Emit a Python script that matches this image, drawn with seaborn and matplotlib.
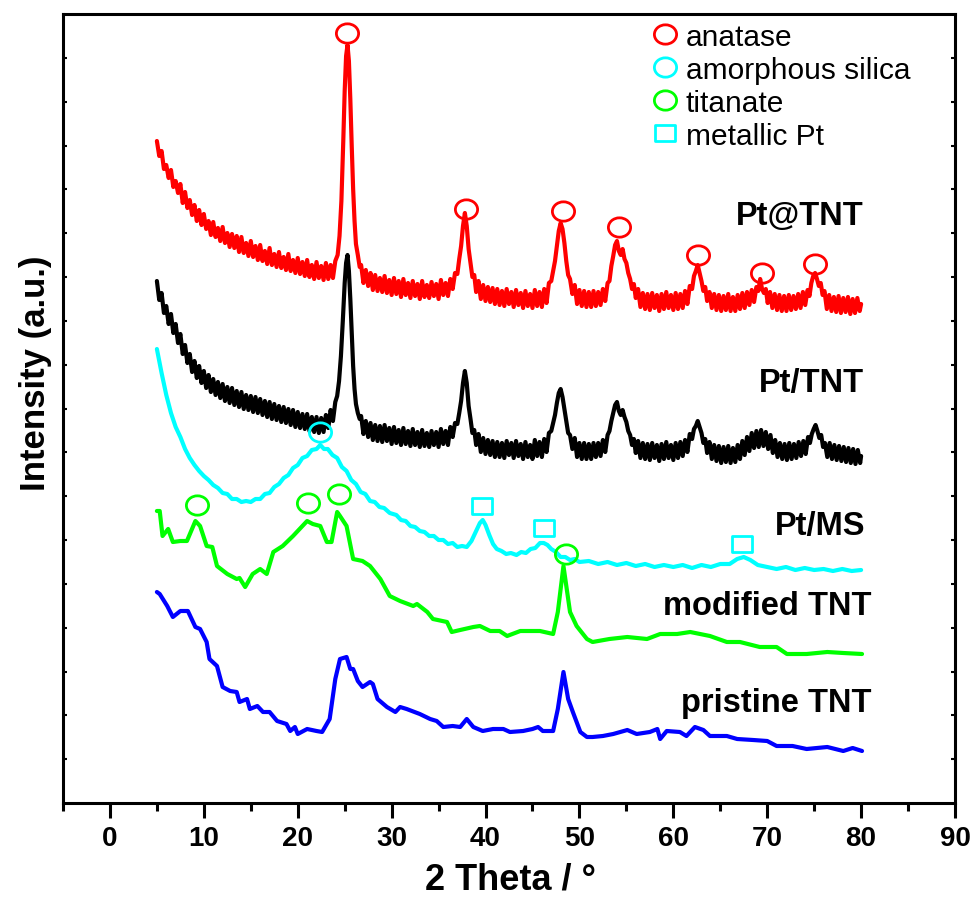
import numpy as np
import pandas as pd
import matplotlib
matplotlib.use("Agg")
import matplotlib.pyplot as plt
import seaborn as sns
from matplotlib.path import Path
from matplotlib.transforms import Affine2D
from matplotlib.lines import Line2D
from matplotlib import font_manager as fm

# ---------------- data (2 Theta in degrees, intensity in a.u. incl. vertical offset) ----------------
# noisy scans as (2 Theta, intensity) pairs
pt_at_tnt = [
    (5.00, 670), (5.25, 655), (5.50, 660), (5.75, 642), (6.00, 646), (6.25, 633), (6.50, 641), (6.75, 624), (7.00, 630), (7.25, 618),
    (7.50, 627), (7.75, 608), (8.00, 619), (8.25, 603), (8.50, 611), (8.75, 596), (9.00, 606), (9.25, 590), (9.50, 601), (9.75, 586),
    (10.00, 597), (10.25, 582), (10.50, 590), (10.75, 576), (11.00, 589), (11.25, 574), (11.50, 583), (11.75, 570), (12.00, 584), (12.25, 568),
    (12.50, 578), (12.75, 564), (13.00, 577), (13.25, 563), (13.50, 575), (13.75, 559), (14.00, 574), (14.25, 558), (14.50, 568), (14.75, 555),
    (15.00, 570), (15.25, 554), (15.50, 565), (15.75, 551), (16.00, 566), (16.25, 550), (16.50, 560), (16.75, 547), (17.00, 563), (17.25, 546),
    (17.50, 557), (17.75, 544), (18.00, 559), (18.25, 543), (18.50, 554), (18.75, 541), (19.00, 557), (19.25, 540), (19.50, 551), (19.75, 538),
    (20.00, 553), (20.25, 537), (20.50, 549), (20.75, 535), (21.00, 551), (21.25, 534), (21.50, 546), (21.75, 532), (22.00, 549), (22.25, 533),
    (22.50, 545), (22.75, 531), (23.00, 548), (23.25, 532), (23.50, 546), (23.75, 533), (24.00, 550), (24.25, 556),
    (24.45, 575), (24.65, 610), (24.85, 670), (25.00, 720), (25.15, 755), (25.30, 766), (25.45, 750), (25.60, 712), (25.75, 665),
    (25.90, 622), (26.05, 590), (26.20, 567), (26.40, 556), (26.60, 544),
    (26.75, 546), (27.00, 528), (27.25, 541), (27.50, 525), (27.75, 538), (28.00, 521), (28.25, 536), (28.50, 520), (28.75, 533), (29.00, 519),
    (29.25, 535), (29.50, 518), (29.75, 531), (30.00, 516), (30.25, 533), (30.50, 517), (30.75, 530), (31.00, 514), (31.25, 532), (31.50, 516),
    (31.75, 528), (32.00, 513), (32.25, 530), (32.50, 515), (32.75, 527), (33.00, 512), (33.25, 530), (33.50, 514), (33.75, 526), (34.00, 513),
    (34.25, 529), (34.50, 515), (34.75, 527), (35.00, 512), (35.25, 531), (35.50, 516), (35.75, 528), (36.00, 515), (36.25, 532), (36.50, 522),
    (36.75, 538), (37.00, 537), (37.20, 552), (37.40, 565), (37.60, 585), (37.80, 598), (38.00, 585), (38.20, 562), (38.40, 548),
    (38.60, 534), (38.80, 536),
    (39.00, 519), (39.25, 530), (39.50, 512), (39.75, 526), (40.00, 510), (40.25, 524), (40.50, 509), (40.75, 523), (41.00, 507), (41.25, 522),
    (41.50, 506), (41.75, 520), (42.00, 505), (42.25, 522), (42.50, 507), (42.75, 519), (43.00, 504), (43.25, 521), (43.50, 506), (43.75, 518),
    (44.00, 503), (44.25, 520), (44.50, 505), (44.75, 517), (45.00, 503), (45.25, 521), (45.50, 505), (45.75, 519), (46.00, 504), (46.25, 522),
    (46.50, 508), (46.75, 528),
    (47.00, 530), (47.20, 540), (47.40, 550), (47.60, 565), (47.80, 580), (48.00, 588), (48.20, 582), (48.40, 568), (48.60, 550),
    (48.80, 536), (49.00, 532),
    (49.25, 517), (49.50, 526), (49.75, 507), (50.00, 521), (50.25, 505), (50.50, 520), (50.75, 504), (51.00, 519), (51.25, 504), (51.50, 520),
    (51.75, 505), (52.00, 519), (52.25, 506), (52.50, 522), (52.75, 510), (53.00, 528),
    (53.20, 530), (53.40, 545), (53.60, 555), (53.80, 566), (54.00, 570), (54.20, 560), (54.40, 556), (54.60, 562), (54.80, 552),
    (55.00, 548), (55.20, 538), (55.40, 532), (55.60, 522), (55.80, 527), (56.00, 513),
    (56.25, 522), (56.50, 504), (56.75, 518), (57.00, 502), (57.25, 517), (57.50, 501), (57.75, 518), (58.00, 503), (58.25, 516), (58.50, 500),
    (58.75, 517), (59.00, 502), (59.25, 519), (59.50, 503), (59.75, 516), (60.00, 501), (60.25, 518), (60.50, 502), (60.75, 517), (61.00, 503),
    (61.25, 520), (61.50, 507), (61.75, 525),
    (62.00, 522), (62.20, 535), (62.40, 540), (62.60, 546), (62.80, 538), (63.00, 530), (63.20, 520), (63.40, 524), (63.60, 510),
    (63.85, 519), (64.10, 503), (64.35, 517), (64.60, 501), (64.85, 516), (65.10, 500), (65.35, 515), (65.60, 501), (65.85, 517), (66.10, 500),
    (66.35, 514), (66.60, 500), (66.85, 516), (67.10, 502), (67.35, 518), (67.60, 503), (67.85, 519), (68.10, 506), (68.35, 521), (68.60, 509),
    (68.85, 524), (69.05, 520), (69.25, 532), (69.45, 522), (69.65, 518), (69.85, 522), (70.05, 508),
    (70.30, 519), (70.55, 503), (70.80, 517), (71.05, 501), (71.30, 516), (71.55, 500), (71.80, 515), (72.05, 500), (72.30, 516), (72.55, 501),
    (72.80, 515), (73.05, 502), (73.30, 517), (73.55, 503), (73.80, 519), (74.05, 506), (74.30, 521),
    (74.50, 515), (74.70, 528), (74.90, 535), (75.10, 538), (75.30, 532), (75.50, 525), (75.70, 528), (75.90, 516), (76.10, 520),
    (76.35, 502), (76.60, 516), (76.85, 500), (77.10, 514), (77.35, 499), (77.60, 515), (77.85, 498), (78.10, 513), (78.35, 499), (78.60, 514),
    (78.85, 497), (79.10, 512), (79.35, 498), (79.60, 513), (79.85, 500), (80.00, 507),
]

pt_tnt = [
    (5.00, 530), (5.25, 511), (5.50, 518), (5.75, 498), (6.00, 505), (6.25, 487), (6.50, 497), (6.75, 478), (7.00, 487), (7.25, 468),
    (7.50, 477), (7.75, 457), (8.00, 466), (8.25, 448), (8.50, 457), (8.75, 439), (9.00, 450), (9.25, 433), (9.50, 445), (9.75, 428),
    (10.00, 440), (10.25, 423), (10.50, 436), (10.75, 419), (11.00, 432), (11.25, 416), (11.50, 429), (11.75, 413), (12.00, 427), (12.25, 410),
    (12.50, 424), (12.75, 408), (13.00, 423), (13.25, 406), (13.50, 420), (13.75, 404), (14.00, 419), (14.25, 402), (14.50, 416), (14.75, 401),
    (15.00, 415), (15.25, 399), (15.50, 414), (15.75, 398), (16.00, 412), (16.25, 396), (16.50, 410), (16.75, 394), (17.00, 409), (17.25, 392),
    (17.50, 407), (17.75, 391), (18.00, 405), (18.25, 389), (18.50, 404), (18.75, 388), (19.00, 402), (19.25, 386), (19.50, 401), (19.75, 384),
    (20.00, 399), (20.25, 383), (20.50, 397), (20.75, 382), (21.00, 397), (21.25, 380), (21.50, 394), (21.75, 379), (22.00, 394), (22.25, 378),
    (22.50, 393), (22.75, 379), (23.00, 396), (23.25, 383), (23.50, 401), (23.75, 390), (24.00, 409),
    (24.20, 415), (24.40, 430), (24.60, 455), (24.80, 490), (25.00, 528), (25.15, 548), (25.30, 556), (25.45, 540), (25.60, 512),
    (25.75, 478), (25.90, 445), (26.05, 422), (26.20, 407), (26.40, 398), (26.60, 392),
    (26.75, 395), (27.00, 377), (27.25, 390), (27.50, 374), (27.75, 388), (28.00, 371), (28.25, 386), (28.50, 370), (28.75, 385), (29.00, 369),
    (29.25, 386), (29.50, 370), (29.75, 383), (30.00, 367), (30.25, 384), (30.50, 368), (30.75, 381), (31.00, 366), (31.25, 383), (31.50, 367),
    (31.75, 380), (32.00, 365), (32.25, 382), (32.50, 366), (32.75, 379), (33.00, 364), (33.25, 381), (33.50, 365), (33.75, 378), (34.00, 364),
    (34.25, 380), (34.50, 366), (34.75, 379), (35.00, 364), (35.25, 382), (35.50, 367), (35.75, 380), (36.00, 366), (36.25, 384), (36.50, 374),
    (36.75, 388), (37.00, 387), (37.20, 398), (37.40, 410), (37.60, 428), (37.80, 440), (38.00, 428), (38.20, 405), (38.40, 392),
    (38.60, 378), (38.80, 381),
    (39.00, 366), (39.25, 377), (39.50, 359), (39.75, 373), (40.00, 357), (40.25, 371), (40.50, 356), (40.75, 370), (41.00, 354), (41.25, 369),
    (41.50, 354), (41.75, 368), (42.00, 353), (42.25, 370), (42.50, 356), (42.75, 368), (43.00, 353), (43.25, 370), (43.50, 355), (43.75, 367),
    (44.00, 352), (44.25, 369), (44.50, 354), (44.75, 366), (45.00, 352), (45.25, 371), (45.50, 355), (45.75, 369), (46.00, 354), (46.25, 372),
    (46.50, 359), (46.75, 378),
    (47.00, 380), (47.20, 388), (47.40, 396), (47.60, 408), (47.80, 418), (48.00, 422), (48.20, 414), (48.40, 402), (48.60, 390),
    (48.80, 378), (49.00, 376),
    (49.25, 362), (49.50, 373), (49.75, 354), (50.00, 368), (50.25, 352), (50.50, 368), (50.75, 352), (51.00, 367), (51.25, 352), (51.50, 368),
    (51.75, 354), (52.00, 368), (52.25, 355), (52.50, 371), (52.75, 359), (53.00, 376),
    (53.20, 380), (53.40, 390), (53.60, 398), (53.80, 406), (54.00, 409), (54.20, 400), (54.40, 396), (54.60, 401), (54.80, 394),
    (55.00, 389), (55.20, 380), (55.40, 376), (55.60, 366), (55.80, 372), (56.00, 358),
    (56.25, 370), (56.50, 353), (56.75, 368), (57.00, 352), (57.25, 367), (57.50, 351), (57.75, 368), (58.00, 353), (58.25, 366), (58.50, 350),
    (58.75, 367), (59.00, 352), (59.25, 369), (59.50, 353), (59.75, 366), (60.00, 351), (60.25, 368), (60.50, 353), (60.75, 369), (61.00, 355),
    (61.25, 371), (61.50, 359), (61.75, 377),
    (62.00, 372), (62.20, 382), (62.40, 385), (62.60, 390), (62.80, 384), (63.00, 378), (63.20, 368), (63.40, 372), (63.60, 358),
    (63.85, 369), (64.10, 352), (64.35, 366), (64.60, 350), (64.85, 365), (65.10, 348), (65.35, 364), (65.60, 349), (65.85, 365), (66.10, 348),
    (66.35, 363), (66.60, 349), (66.85, 366), (67.10, 352), (67.35, 370), (67.60, 356), (67.85, 374), (68.10, 360), (68.35, 378), (68.60, 363),
    (68.85, 380), (69.10, 364), (69.35, 381), (69.60, 365), (69.85, 379), (70.10, 362), (70.35, 376), (70.60, 358),
    (70.85, 371), (71.10, 354), (71.35, 368), (71.60, 352), (71.85, 367), (72.10, 351), (72.35, 368), (72.60, 352), (72.85, 367), (73.10, 353),
    (73.35, 369), (73.60, 355), (73.85, 370), (74.10, 357), (74.35, 374),
    (74.55, 368), (74.75, 377), (74.95, 382), (75.15, 386), (75.35, 380), (75.55, 373), (75.75, 376), (75.95, 364), (76.15, 368),
    (76.40, 354), (76.65, 368), (76.90, 352), (77.15, 366), (77.40, 351), (77.65, 365), (77.90, 350), (78.15, 364), (78.40, 349), (78.65, 363),
    (78.90, 348), (79.15, 362), (79.40, 347), (79.65, 361), (79.90, 348), (80.00, 355),
]

pt_ms_tt = [5.0, 5.5, 6.0, 6.5, 7.0, 7.5, 8.0, 8.5, 9.0, 9.5, 10.0, 10.5, 11.0, 11.5, 12.0, 12.5, 13.0, 13.5,
            14.0, 14.5, 15.0, 15.5, 16.0, 16.5, 17.0, 17.5, 18.0, 18.5, 19.0, 19.5, 20.0, 20.5, 21.0, 21.5,
            22.0, 22.4, 22.8, 23.2, 23.7, 24.2, 24.7, 25.2, 25.7, 26.2, 26.7, 27.2, 27.7, 28.2, 28.7, 29.2,
            29.8, 30.5, 31.0, 31.5, 32.0, 32.5, 33.0, 33.5, 34.0, 34.5, 35.0, 35.5, 36.0, 36.5, 37.0, 37.5,
            38.0, 38.5, 39.0, 39.4, 39.7, 40.0, 40.4, 40.8, 41.2, 41.7, 42.2, 42.7, 43.3, 43.8, 44.3, 44.8,
            45.3, 45.8, 46.2, 46.6, 47.0, 47.5, 48.0, 48.5, 49.0, 49.5, 50.0, 51.0, 52.0, 53.0, 54.0, 55.0,
            56.0, 57.0, 58.0, 59.0, 60.0, 61.0, 62.0, 63.0, 64.0, 65.0, 66.0, 66.8, 67.5, 68.2, 69.0, 70.0,
            71.0, 72.0, 73.0, 74.0, 75.0, 76.0, 77.0, 78.0, 79.0, 80.0]
pt_ms_int = [462, 438, 416, 398, 384, 374, 362, 353, 346, 340, 335, 331, 326, 323, 318, 317, 312, 312,
             309, 310, 309, 312, 312, 317, 318, 324, 327, 333, 336, 343, 346, 353, 355, 361,
             362, 366, 362, 362, 356, 353, 344, 340, 331, 327, 319, 317, 310, 309, 304, 303,
             298, 296, 291, 290, 285, 284, 280, 279, 275, 275, 271, 271, 267, 268, 264, 265,
             264, 270, 280, 288, 291, 286, 276, 267, 262, 260, 257, 258, 256, 259, 258, 262,
             263, 268, 268, 266, 262, 259, 254, 254, 251, 252, 249, 250, 247, 249, 246, 248,
             245, 247, 244, 246, 244, 246, 243, 246, 244, 247, 247, 252, 254, 251, 246, 244,
             242, 244, 241, 243, 241, 242, 240, 242, 240, 241]

modified_tnt_tt = [5.0, 5.3, 5.6, 6.2, 6.7, 7.5, 8.2, 9.1, 9.6, 10.3, 10.9, 11.4, 12.5, 13.5, 13.8, 14.4,
                   15.2, 16.0, 16.7, 17.4, 18.4, 19.5, 20.2, 21.0, 21.6, 22.4, 23.1, 23.6, 24.2, 24.5, 25.2,
                   25.9, 26.9, 27.7, 28.8, 29.8, 30.9, 32.3, 32.7, 33.8, 34.4, 35.9, 36.4, 37.3, 38.7, 39.4,
                   40.5, 41.5, 42.3, 43.7, 45.8, 47.2, 47.7, 48.3, 49.0, 49.7, 50.8, 51.4, 53.2, 55.1, 57.2,
                   58.6, 60.4, 61.8, 63.9, 65.7, 67.1, 69.2, 71.0, 72.1, 74.2, 76.4, 78.1, 80.1]
modified_tnt_int = [300, 300, 275, 282, 269, 270, 270, 290, 285, 265, 264, 245, 237, 232, 233, 224,
                    237, 242, 237, 259, 265, 275, 282, 290, 287, 285, 269, 269, 299, 295, 285,
                    252, 250, 245, 232, 215, 210, 205, 207, 199, 192, 189, 179, 181, 184, 185,
                    180, 180, 175, 180, 180, 177, 199, 245, 199, 185, 172, 169, 172, 174, 172,
                    177, 177, 179, 175, 169, 169, 164, 164, 157, 157, 159, 158, 157]

pristine_tnt_tt = [5.0, 5.3, 6.1, 6.7, 7.5, 8.3, 9.1, 9.6, 10.3, 10.6, 11.4, 12.0, 12.8, 13.5, 13.8, 14.6,
                   14.9, 15.7, 16.3, 17.0, 17.8, 18.8, 19.2, 19.7, 20.0, 21.0, 22.0, 22.6, 23.4, 24.0, 24.5,
                   25.2, 25.6, 25.9, 26.4, 26.9, 27.7, 28.0, 28.5, 29.5, 30.4, 30.9, 31.6, 33.0, 34.1, 34.8,
                   35.5, 36.5, 37.3, 38.0, 38.7, 39.7, 40.8, 41.9, 42.6, 44.0, 45.0, 45.6, 46.1, 47.2, 47.7,
                   48.3, 48.8, 49.3, 50.1, 50.8, 51.4, 52.5, 53.6, 55.1, 56.1, 57.5, 58.3, 58.6, 59.3, 60.7,
                   61.4, 62.3, 63.2, 63.9, 65.7, 66.8, 68.5, 70.0, 71.0, 72.7, 74.2, 76.4, 78.1, 79.1, 80.1]
pristine_tnt_int = [219, 217, 205, 194, 200, 200, 184, 182, 169, 152, 145, 124, 120, 119, 109, 112,
                    102, 105, 99, 99, 90, 87, 80, 84, 77, 82, 80, 79, 92, 132, 152,
                    154, 142, 142, 130, 124, 129, 127, 112, 104, 99, 104, 102, 97, 92, 90,
                    84, 85, 84, 92, 84, 80, 82, 82, 79, 80, 82, 84, 80, 80, 102,
                    139, 112, 99, 79, 74, 74, 75, 77, 81, 77, 79, 82, 72, 80, 79,
                    75, 84, 81, 75, 75, 72, 71, 70, 65, 65, 62, 64, 60, 63, 60]

# phase markers (peak identification symbols)
anatase_tt = [25.24, 37.91, 48.24, 54.21, 62.62, 69.44, 75.08]
anatase_int = [778, 602, 600, 584, 556, 538, 547]
silica_tt = [22.36]
silica_int = [379]
titanate_tt = [9.27, 21.09, 24.39, 48.56]
titanate_int = [306, 308, 317, 257]
pt_metal_tt = [39.62, 46.22, 67.31]
pt_metal_int = [305, 283, 267]

sample_names = ["Pt@TNT", "Pt/TNT", "Pt/MS", "modified TNT", "pristine TNT"]
sample_colors = ["#FF0000", "#000000", "#00FFFF", "#00FF00", "#0000FF"]
label_tt = [80.3, 80.3, 80.5, 81.1, 81.1]
label_int = [587, 420, 277, 197, 100]
legend_labels = ["anatase", "amorphous silica", "titanate", "metallic Pt"]

x_major = [0, 10, 20, 30, 40, 50, 60, 70, 80, 90]
x_minor = [-5, 5, 15, 25, 35, 45, 55, 65, 75, 85]

# ---------------- styling ----------------
sns.set_theme(style="white")
plt.rcParams["font.family"] = ["Liberation Sans", "DejaVu Sans"]
plt.rcParams["axes.unicode_minus"] = False
for key in ["text.color", "axes.labelcolor", "xtick.color", "ytick.color", "axes.edgecolor"]:
    plt.rcParams[key] = "black"

names_avail = {f.name for f in fm.fontManager.ttflist}
narrow = "Liberation Sans Narrow" in names_avail
axis_font = ["Liberation Sans Narrow", "Liberation Sans"] if narrow else ["Liberation Sans", "DejaVu Sans"]
tick_size = 22 if narrow else 20
xlab_size = 30 if narrow else 26

fig = plt.figure(figsize=(9.77, 9.04), dpi=100)
ax = fig.add_axes([63 / 977, 100 / 904, 892 / 977, 789 / 904])

pt_at_tnt_tt, pt_at_tnt_int = map(list, zip(*pt_at_tnt))
pt_tnt_tt, pt_tnt_int = map(list, zip(*pt_tnt))

frames = []
for name, tt, inten in zip(sample_names,
                           [pt_at_tnt_tt, pt_tnt_tt, pt_ms_tt, modified_tnt_tt, pristine_tnt_tt],
                           [pt_at_tnt_int, pt_tnt_int, pt_ms_int, modified_tnt_int, pristine_tnt_int]):
    frames.append(pd.DataFrame({"two_theta": tt, "intensity": inten, "sample": name}))
df = pd.concat(frames, ignore_index=True)

sns.lineplot(data=df, x="two_theta", y="intensity", hue="sample", hue_order=sample_names,
             palette=dict(zip(sample_names, sample_colors)), estimator=None, sort=False,
             legend=False, lw=3.0, ax=ax)
for ln in ax.get_lines():
    if str(ln.get_color()).lower() in ("#ff0000", "#000000"):
        ln.set_linewidth(3.0)
        ln.set_solid_joinstyle("round")

ellipse = Affine2D().scale(1.15, 1.0).transform_path(Path.unit_circle())
rect = Path([(-1, -0.78), (1, -0.78), (1, 0.78), (-1, 0.78), (-1, -0.78)],
            [Path.MOVETO, Path.LINETO, Path.LINETO, Path.LINETO, Path.CLOSEPOLY])

mk = dict(ls="none", mfc="none", mew=2.0)
ax.plot(anatase_tt, anatase_int, marker=ellipse, ms=16, mec="#FF0000", **mk)
ax.plot(silica_tt, silica_int, marker=ellipse, ms=16, mec="#00FFFF", **mk)
ax.plot(titanate_tt, titanate_int, marker=ellipse, ms=16, mec="#00FF00", **mk)
ax.plot(pt_metal_tt, pt_metal_int, marker=rect, ms=14, mec="#00FFFF", **mk)

for name, xt, yt in zip(sample_names, label_tt, label_int):
    ax.text(xt, yt, name, ha="right", va="baseline", fontsize=23.5, fontweight="bold",
            color="black", family=["Liberation Sans", "DejaVu Sans"])

handles = [Line2D([], [], ls="none", marker=ellipse, ms=16, mfc="none", mec="#FF0000", mew=2.0),
           Line2D([], [], ls="none", marker=ellipse, ms=16, mfc="none", mec="#00FFFF", mew=2.0),
           Line2D([], [], ls="none", marker=ellipse, ms=16, mfc="none", mec="#00FF00", mew=2.0),
           Line2D([], [], ls="none", marker=rect, ms=14, mfc="none", mec="#00FFFF", mew=2.0)]
leg = ax.legend(handles, legend_labels, loc="upper left", bbox_to_anchor=(0.658, 0.989),
                frameon=False, borderpad=0, borderaxespad=0, handlelength=1.0, handletextpad=0.2,
                labelspacing=0.17, prop={"family": "Liberation Sans", "size": 21.5})
for t in leg.get_texts():
    t.set_color("black")

ax.set_xlim(-5, 90)
ax.set_ylim(8, 797)
ax.set_xticks(x_major)
ax.set_xticks(x_minor, minor=True)
ax.set_xticklabels([str(v) for v in x_major], fontsize=tick_size, fontweight="bold", family=axis_font)
ax.set_yticks(np.linspace(8, 797, 19)[1:-1])
ax.set_yticklabels([])

ax.tick_params(axis="x", which="major", direction="out", length=11, width=2.2, pad=5, bottom=True, top=False,
               colors="black")
ax.tick_params(axis="x", which="minor", direction="out", length=6, width=2.2, bottom=True, top=False,
               colors="black")
ax.tick_params(axis="y", which="major", direction="in", length=3, width=1.5, left=True, right=True,
               colors="black")

for sp in ax.spines.values():
    sp.set_visible(True)
    sp.set_linewidth(2.2)
    sp.set_color("black")

ax.set_xlabel("2 Theta / °", fontsize=xlab_size, fontweight="bold", family=axis_font, color="black")
ax.xaxis.set_label_coords(0.502, -0.074)
ax.set_ylabel("Intensity (a.u.)", fontsize=25, fontweight="bold", family=["Liberation Sans", "DejaVu Sans"],
              color="black")
ax.yaxis.set_label_coords(-0.012, 0.546)

fig.savefig("out.png", dpi=100, facecolor="white")
